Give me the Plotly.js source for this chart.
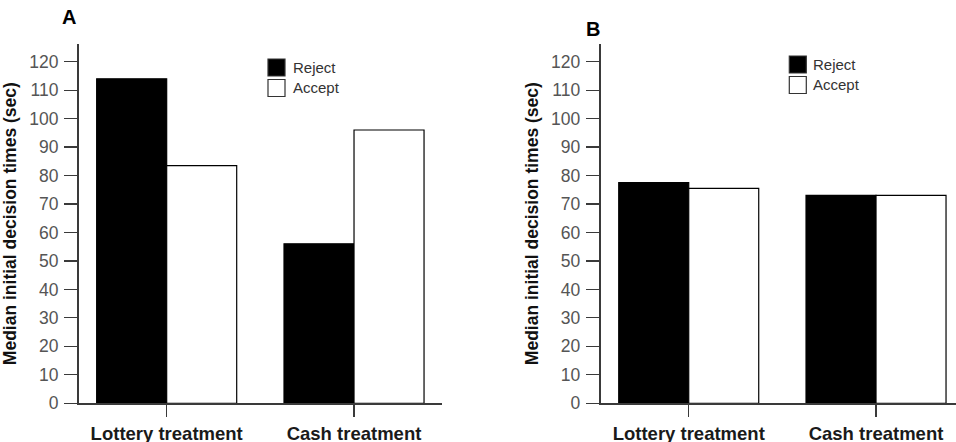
<!DOCTYPE html>
<html>
<head>
<meta charset="utf-8">
<script src="https://cdn.plot.ly/plotly-3.0.1.min.js"></script>
<style>html,body{margin:0;padding:0;background:#fff;}#chart{width:956px;height:442px;}</style>
</head>
<body>
<div id="chart"></div>
<script>
const categories = ["Lottery treatment", "Cash treatment"];
const seriesNames = ["Reject", "Accept"];
const panelA_reject = [114, 56];
const panelA_accept = [83.5, 96];
const panelB_reject = [77.5, 73];
const panelB_accept = [75.5, 73];
const yTickVals = [0,10,20,30,40,50,60,70,80,90,100,110,120];
const yTitle = "Median initial decision times (sec)";
const panelLabels = ["A", "B"];

const W = 956, H = 442;
const px = x => x / W;
const py = y => 1 - y / H;

const fills = ["#000000", "#ffffff"];
function bar(x, y, i, xa, ya) {
  return {
    type: "bar", x: x, y: y, name: seriesNames[i], xaxis: xa, yaxis: ya,
    marker: {color: fills[i], line: {color: "#000", width: 1.2}},
    showlegend: false, hoverinfo: "skip"
  };
}
const data = [
  bar(categories, panelA_reject, 0, "x", "y"),
  bar(categories, panelA_accept, 1, "x", "y"),
  bar(categories, panelB_reject, 0, "x2", "y2"),
  bar(categories, panelB_accept, 1, "x2", "y2")
];

const yDom = [py(403.3), py(44)];
const yRange = [0, 126.2];
const axisColor = "#3a3a3a";
function yAxis(anchor) {
  return {
    domain: yDom, range: yRange, anchor: anchor,
    tickvals: yTickVals, ticks: "outside", ticklen: 13, tickwidth: 1.2, tickcolor: axisColor,
    showline: true, linecolor: axisColor, linewidth: 2, showgrid: false, zeroline: false,
    tickfont: {family: "Liberation Sans, Arial, sans-serif", size: 17.5, color: "#555"},
    ticklabelstandoff: 2,
    title: {text: yTitle, font: {family: "Liberation Sans, Arial, sans-serif", size: 17.5, color: "#111", weight: "bold"}, standoff: 8},
    automargin: false, fixedrange: true
  };
}
function xAxis(dom, range, anchor) {
  return {
    domain: dom, range: range, anchor: anchor, type: "category",
    ticks: "outside", ticklen: 12, tickwidth: 1.2, tickcolor: axisColor,
    showline: true, linecolor: axisColor, linewidth: 2, showgrid: false, zeroline: false,
    tickfont: {family: "Liberation Sans, Arial, sans-serif", size: 18.5, color: "#1a1a1a", weight: "bold"},
    automargin: false, fixedrange: true
  };
}

const legendBoxes = [
  {x0: 268, y0: 59, ax: 290.7},
  {x0: 789.3, y0: 56, ax: 811}
];
const shapes = [];
const annotations = [];
legendBoxes.forEach(lb => {
  seriesNames.forEach((nm, i) => {
    const top = lb.y0 + i * 20.5;
    shapes.push({type: "rect", xref: "paper", yref: "paper",
      x0: px(lb.x0), x1: px(lb.x0 + 17), y0: py(top + 17), y1: py(top),
      fillcolor: fills[i], line: {color: "#333", width: 1.2}});
    annotations.push({xref: "paper", yref: "paper", x: px(lb.ax), y: py(top + 8.5),
      xanchor: "left", yanchor: "middle", showarrow: false, text: nm,
      font: {family: "Liberation Sans, Arial, sans-serif", size: 15, color: "#333"}});
  });
});
annotations.push({xref: "paper", yref: "paper", x: px(69), y: py(17.5), xanchor: "center", yanchor: "middle",
  showarrow: false, text: panelLabels[0], font: {family: "Liberation Sans, Arial, sans-serif", size: 20, color: "#000", weight: "bold"}});
annotations.push({xref: "paper", yref: "paper", x: px(592.7), y: py(29), xanchor: "center", yanchor: "middle",
  showarrow: false, text: panelLabels[1], font: {family: "Liberation Sans, Arial, sans-serif", size: 20, color: "#000", weight: "bold"}});

const layout = {
  width: W, height: H,
  margin: {l: 0, r: 0, t: 0, b: 0, pad: 0},
  paper_bgcolor: "#fff", plot_bgcolor: "#fff",
  barmode: "group", bargap: 0.2525, bargroupgap: 0,
  showlegend: false,
  xaxis: xAxis([px(79), px(441.7)], [-0.468, 1.468], "y"),
  yaxis: yAxis("x"),
  xaxis2: xAxis([px(600.7), 1], [-0.47, 1.427], "y2"),
  yaxis2: yAxis("x2"),
  shapes: shapes,
  annotations: annotations
};
Plotly.newPlot("chart", data, layout, {displayModeBar: false, staticPlot: true});
</script>
</body>
</html>
